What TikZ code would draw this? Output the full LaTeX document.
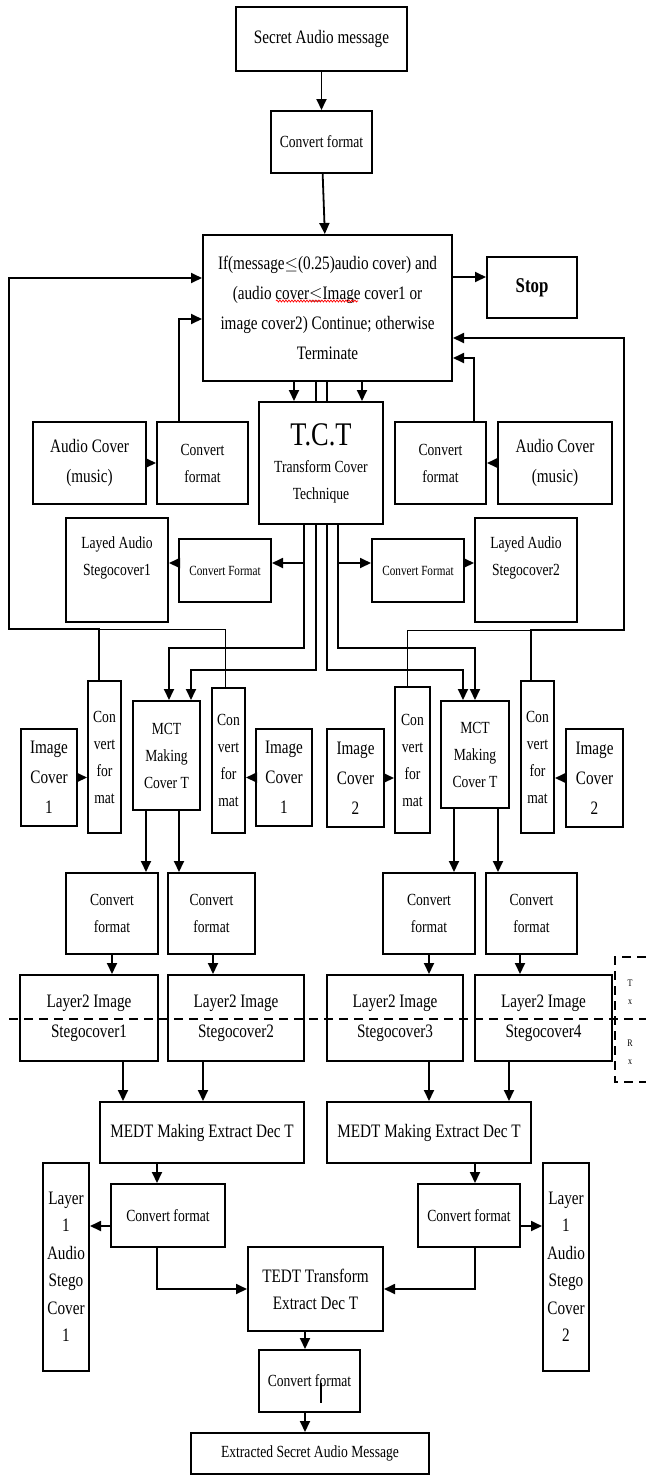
\documentclass[tikz,border=0pt]{standalone}
\usepackage{fontspec}
\setmainfont{Liberation Serif}[FakeStretch=0.8]
\usetikzlibrary{arrows.meta, decorations.pathmorphing}

\tikzset{
    box/.style={draw, line width=2pt, fill=white, align=center, inner sep=1pt},
    bigtxt/.style={font=\fontsize{19}{30}\selectfont},
    midtxt/.style={font=\fontsize{17}{27}\selectfont},
    smalltxt/.style={font=\fontsize{14}{20}\selectfont},
    arr/.style={-{Triangle[length=11pt,width=10pt]}, line width=1.8pt},
    wire/.style={line width=1.8pt},
    dashline/.style={line width=1.8pt, dash pattern=on 9pt off 6pt},
}

\begin{document}
\begin{tikzpicture}[x=1pt, y=-1pt]
    \useasboundingbox (0,0) rectangle (646,1476);

    % top part
    \node[box, bigtxt, minimum width=171, minimum height=64] (secret) at (321.5,39) {Secret Audio message};
    \node[box, midtxt, minimum width=101, minimum height=62] (conv0) at (321.5,142) {Convert format};
    \node[box, bigtxt, minimum width=249, minimum height=146] (cond) at (327.5,308) {If(message$\leq$(0.25)audio cover) and\\(audio cover$\leq$Image cover1 or\\image cover2) Continue; otherwise\\Terminate};
    \node[box, font=\bfseries\fontsize{21}{24}\selectfont, minimum width=90, minimum height=61] (stop) at (532,287.5) {Stop};

    \node[box, midtxt, minimum width=124, minimum height=122] (tct) at (321,463) {{\fontsize{33}{36}\selectfont T.C.T}\\Transform Cover\\Technique};
    \node[box, bigtxt, minimum width=113, minimum height=82] (audioL) at (89.5,463) {Audio Cover\\(music)};
    \node[box, midtxt, minimum width=91, minimum height=82] (convL) at (202.5,463) {Convert\\format};
    \node[box, midtxt, minimum width=91, minimum height=82] (convR) at (440.5,463) {Convert\\format};
    \node[box, bigtxt, minimum width=114, minimum height=82] (audioR) at (555,463) {Audio Cover\\(music)};

    \node[box, midtxt, minimum width=102, minimum height=104] (layL) at (117,570) {Layed Audio\\Stegocover1\\~};
    \node[box, smalltxt, minimum width=92, minimum height=63] (revL) at (225,570.5) {Convert Format};
    \node[box, smalltxt, minimum width=92, minimum height=63] (revR) at (418,570.5) {Convert Format};
    \node[box, midtxt, minimum width=102, minimum height=104] (layR) at (526,570) {Layed Audio\\Stegocover2\\~};

    % making cover row
    \node[box, bigtxt, minimum width=56, minimum height=97] (imgL1) at (49,777.5) {Image\\Cover\\1};
    \node[box, midtxt, minimum width=33, minimum height=152] (cv1) at (104.5,757) {Con\\vert\\for\\mat};
    \node[box, midtxt, minimum width=67, minimum height=109] (mct1) at (166.5,755.5) {MCT\\Making\\Cover T};
    \node[box, midtxt, minimum width=33, minimum height=145] (cv2) at (228.5,760.5) {Con\\vert\\for\\mat};
    \node[box, bigtxt, minimum width=56, minimum height=97] (imgR1) at (284,777.5) {Image\\Cover\\1};
    \node[box, bigtxt, minimum width=57, minimum height=98] (imgL2) at (355.5,778) {Image\\Cover\\2};
    \node[box, midtxt, minimum width=35, minimum height=146] (cv3) at (412.5,760) {Con\\vert\\for\\mat};
    \node[box, midtxt, minimum width=68, minimum height=107] (mct2) at (475,754.5) {MCT\\Making\\Cover T};
    \node[box, midtxt, minimum width=33, minimum height=152] (cv4) at (537.5,757) {Con\\vert\\for\\mat};
    \node[box, bigtxt, minimum width=57, minimum height=98] (imgR2) at (594.5,778) {Image\\Cover\\2};

    \node[box, midtxt, minimum width=92, minimum height=81] (fmt1) at (112,913.5) {Convert\\format};
    \node[box, midtxt, minimum width=87, minimum height=81] (fmt2) at (211.5,913.5) {Convert\\format};
    \node[box, midtxt, minimum width=92, minimum height=81] (fmt3) at (429,913.5) {Convert\\format};
    \node[box, midtxt, minimum width=91, minimum height=81] (fmt4) at (531.5,913.5) {Convert\\format};

    \node[box, bigtxt, minimum width=138, minimum height=86] (steg1) at (89,1018) {Layer2 Image\\Stegocover1};
    \node[box, bigtxt, minimum width=136, minimum height=86] (steg2) at (236,1018) {Layer2 Image\\Stegocover2};
    \node[box, bigtxt, minimum width=136, minimum height=86] (steg3) at (395,1018) {Layer2 Image\\Stegocover3};
    \node[box, bigtxt, minimum width=137, minimum height=86] (steg4) at (543.5,1018) {Layer2 Image\\Stegocover4};

    % extraction part
    \node[box, bigtxt, minimum width=204, minimum height=61] (medtL) at (202,1132.5) {MEDT Making Extract Dec T};
    \node[box, bigtxt, minimum width=204, minimum height=61] (medtR) at (429,1132.5) {MEDT Making Extract Dec T};
    \node[box, midtxt, minimum width=114, minimum height=63] (fmt5) at (168,1215.5) {Convert format};
    \node[box, midtxt, minimum width=102, minimum height=63] (fmt6) at (469,1215.5) {Convert format};
    \node[box, font=\fontsize{19}{27.5}\selectfont, minimum width=46, minimum height=208] (stegoA1) at (66,1267) {Layer\\1\\Audio\\Stego\\Cover\\1};
    \node[box, font=\fontsize{19}{27.5}\selectfont, minimum width=46, minimum height=208] (stegoA2) at (566,1267) {Layer\\1\\Audio\\Stego\\Cover\\2};
    \node[box, font=\fontsize{19}{27}\selectfont, minimum width=135, minimum height=84] (tedt) at (315.5,1289) {TEDT Transform\\Extract Dec T};
    \node[box, midtxt, minimum width=101, minimum height=62] (conv7) at (309.5,1381) {Convert format};
    \node[box, midtxt, minimum width=238, minimum height=41] (final) at (310,1453.5) {Extracted Secret Audio Message};

    \node[font=\fontsize{10}{18}\selectfont, align=center] (txlbl) at (630,992) {T\\x};
    \node[font=\fontsize{10}{18}\selectfont, align=center] (rxlbl) at (630,1052) {R\\x};

    % arrows, top
    \draw[arr] (secret) -- (conv0);
    \draw[arr] (conv0) -- (cond);
    \draw[arr] (cond.east |- 0,277) -- (stop.west |- 0,277);
    \draw[arr] (cond.south -| 294,0) -- (tct.north -| 294,0);
    \draw[arr] (cond.south -| 362,0) -- (tct.north -| 362,0);
    \draw[wire] (cond.south -| 316,0) -- (tct.north -| 316,0);
    \draw[wire] (cond.south -| 327,0) -- (tct.north -| 327,0);
    \draw[arr] (audioL) -- (convL);
    \draw[arr] (audioR) -- (convR);
    \draw[arr] (convL.north -| 179,0) |- (cond.west |- 0,319);
    \draw[arr] (convR.north -| 474,0) |- (cond.east |- 0,358);

    % feedback loops
    \coordinate (loopL) at (9,629);
    \coordinate (loopR) at (624,630);
    \draw[arr] (cv1.north -| 99,0) |- (loopL) |- (cond.west |- 0,278);
    \draw[line width=1pt] (cv2.north -| 225,0) |- (loopL);
    \draw[arr] (cv4.north -| 531,0) |- (loopR) |- (cond.east |- 0,338);
    \draw[line width=1pt] (cv3.north -| 407,0) |- (loopR);

    % from T.C.T
    \draw[arr] (tct.south -| 304,0) |- (revL.east |- 0,563);
    \draw[arr] (revL.west |- 0,563) -- (layL.east |- 0,563);
    \draw[arr] (tct.south -| 338,0) |- (revR.west |- 0,563);
    \draw[arr] (revR.east |- 0,563) -- (layR.west |- 0,563);
    \draw[arr] (tct.south -| 304,0) |- (169,648) -- (mct1.north -| 169,0);
    \draw[arr] (tct.south -| 316,0) |- (191,670) -- (mct1.north -| 191,0);
    \draw[arr] (tct.south -| 327,0) |- (463,670) -- (mct2.north -| 463,0);
    \draw[arr] (tct.south -| 338,0) |- (475,648) -- (mct2.north -| 475,0);

    \draw[arr] (imgL1.east) -- (imgL1.east -| cv1.west);
    \draw[arr] (imgR1.west) -- (imgR1.west -| cv2.east);
    \draw[arr] (imgL2.east) -- (imgL2.east -| cv3.west);
    \draw[arr] (imgR2.west) -- (imgR2.west -| cv4.east);

    \draw[arr] (mct1.south -| 146,0) -- (fmt1.north -| 146,0);
    \draw[arr] (mct1.south -| 179,0) -- (fmt2.north -| 179,0);
    \draw[arr] (mct2.south -| 454,0) -- (fmt3.north -| 454,0);
    \draw[arr] (mct2.south -| 498,0) -- (fmt4.north -| 498,0);

    \draw[arr] (fmt1.south -| 112,0) -- (steg1.north -| 112,0);
    \draw[arr] (fmt2.south -| 213,0) -- (steg2.north -| 213,0);
    \draw[arr] (fmt3.south -| 429,0) -- (steg3.north -| 429,0);
    \draw[arr] (fmt4.south -| 520,0) -- (steg4.north -| 520,0);

    \draw[arr] (steg1.south -| 123,0) -- (medtL.north -| 123,0);
    \draw[arr] (steg2.south -| 203,0) -- (medtL.north -| 203,0);
    \draw[arr] (steg3.south -| 429,0) -- (medtR.north -| 429,0);
    \draw[arr] (steg4.south -| 509,0) -- (medtR.north -| 509,0);

    % extraction arrows
    \draw[arr] (medtL.south -| 157,0) -- (fmt5.north -| 157,0);
    \draw[arr] (medtR.south -| 475,0) -- (fmt6.north -| 475,0);
    \draw[arr] (fmt5.west |- 0,1226) -- (stegoA1.east |- 0,1226);
    \draw[arr] (fmt6.east |- 0,1226) -- (stegoA2.west |- 0,1226);
    \draw[arr] (fmt5.south -| 157,0) |- (tedt.west);
    \draw[arr] (fmt6.south -| 475,0) |- (tedt.east);
    \draw[arr] (tedt.south -| 305,0) -- (conv7.north -| 305,0);
    \draw[arr] (conv7.south -| 305,0) -- (final.north -| 305,0);
    \draw[line width=2pt] (321,1383) -- (321,1403);

    % spell-check mark and Tx/Rx split
    \draw[red, line width=0.7pt, decorate, decoration={snake, amplitude=1pt, segment length=3pt}] (276,301) -- (358,301);
    \draw[dashline] (9,1019) -- (646,1019);
    \draw[dashline] (646,957) -- (615,957) -- (615,1082) -- (646,1082);
\end{tikzpicture}
\end{document}
